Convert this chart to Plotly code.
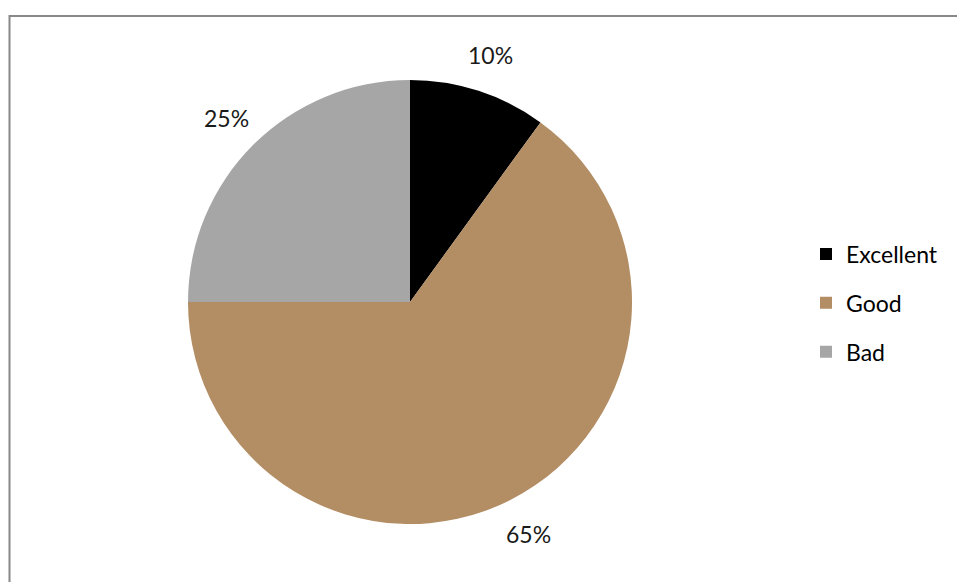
import math
import plotly.graph_objects as go

categories = ["Excellent", "Good", "Bad"]
values = [10, 65, 25]
colors = ["#000000", "#b38d63", "#a6a6a6"]
label_texts = ["10%", "65%", "25%"]

W, H = 957, 582
cx, cy, R = 410, 302, 222
font_family = "Lato, 'Open Sans', sans-serif"

fig = go.Figure()
fig.add_trace(go.Pie(
    labels=categories, values=values, sort=False, direction="clockwise", rotation=0,
    marker=dict(colors=colors, line=dict(width=0)), textinfo="none", hoverinfo="label+percent",
    showlegend=False,
    domain=dict(x=[(cx - R) / W, (cx + R) / W], y=[1 - (cy + R) / H, 1 - (cy - R) / H]),
))

for cat, col in zip(categories, colors):
    fig.add_trace(go.Scatter(x=[None], y=[None], mode="markers", name=cat, legendgroup=cat,
                             marker=dict(symbol="square", size=12, color=col)))

# percentage labels placed outside slices, derived from the data
total = sum(values)
cum = 0
r_lab = 260
for v, t in zip(values, label_texts):
    a = 2 * math.pi * (cum + v / 2) / total
    cum += v
    px = cx + r_lab * math.sin(a)
    py = cy - r_lab * math.cos(a)
    fig.add_annotation(x=px / W, y=1 - py / H, xref="paper", yref="paper", text=t, showarrow=False,
                       font=dict(size=23, color="#1a1a1a", family=font_family), xanchor="center", yanchor="middle")

fig.add_shape(type="rect", xref="paper", yref="paper", x0=9.5 / W, x1=1.02, y0=-0.05, y1=1 - 16 / H,
              line=dict(color="#888888", width=2), fillcolor="rgba(0,0,0,0)")

fig.update_layout(
    width=W, height=H, margin=dict(l=0, r=0, t=0, b=0),
    paper_bgcolor="white", plot_bgcolor="white",
    xaxis=dict(visible=False), yaxis=dict(visible=False),
    showlegend=True,
    legend=dict(x=806 / W, y=1 - 303 / H, xanchor="left", yanchor="middle", tracegroupgap=16,
                font=dict(size=23, color="#000000", family=font_family), bgcolor="rgba(0,0,0,0)"),
)

fig.write_html("out.html")
